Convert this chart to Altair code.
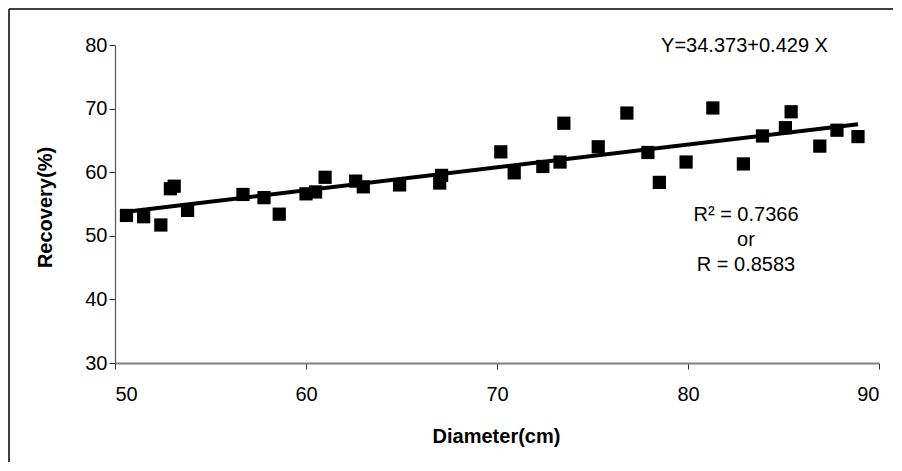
import altair as alt
import pandas as pd

# Data
diameter = [50.6, 51.5, 52.4, 52.9, 53.1, 53.8, 56.7, 57.8, 58.6, 60.0, 60.5, 61.0,
            62.6, 63.0, 64.9, 67.0, 67.1, 70.2, 70.9, 72.4, 73.3, 73.5, 75.3, 76.8,
            77.9, 78.5, 79.9, 81.3, 82.9, 83.9, 85.1, 85.4, 86.9, 87.8, 88.9]
recovery = [53.2, 53.0, 51.7, 57.4, 57.8, 54.0, 56.5, 56.0, 53.4, 56.6, 56.9, 59.2,
            58.6, 57.7, 58.0, 58.3, 59.5, 63.2, 59.9, 60.9, 61.6, 67.7, 64.0, 69.3,
            63.1, 58.4, 61.6, 70.1, 61.3, 65.7, 67.0, 69.5, 64.1, 66.6, 65.6]
x_ticks = [50, 60, 70, 80, 90]
y_ticks = [30, 40, 50, 60, 70, 80]
equation_text = "Y=34.373+0.429 X"
stats_text = ["R\u00b2 = 0.7366", "or", "R = 0.8583"]

df = pd.DataFrame({"Diameter": diameter, "Recovery": recovery})

FONT = "Liberation Sans"
W, H = 764, 318

xenc = alt.X("Diameter:Q",
             scale=alt.Scale(domain=[50, 90], nice=False, zero=False),
             axis=alt.Axis(values=x_ticks, title="Diameter(cm)", grid=False,
                           tickSize=6, labelPadding=15, labelFontSize=20,
                           labelFont=FONT, labelColor="black",
                           domainColor="#808080", domainWidth=2,
                           tickColor="#333333", tickWidth=1,
                           titleFont=FONT, titleFontSize=20, titleFontWeight="bold",
                           titleColor="black", titleBaseline="alphabetic",
                           titleY=79, titleX=W / 2 - 1, titleAnchor="middle"))
yenc = alt.Y("Recovery:Q",
             scale=alt.Scale(domain=[30, 80], nice=False, zero=False),
             axis=alt.Axis(values=y_ticks, title="Recovery(%)", grid=False,
                           tickSize=6, labelPadding=2, labelFontSize=20,
                           labelFont=FONT, labelColor="black",
                           domainColor="#555555", domainWidth=1.2,
                           tickColor="#333333", tickWidth=1,
                           titleFont=FONT, titleFontSize=20, titleFontWeight="bold",
                           titleColor="black", titleAngle=270,
                           titleBaseline="alphabetic", titleAlign="center",
                           titleX=-64, titleY=162))

base = alt.Chart(df)

points = base.mark_square(filled=True, color="black", size=175, opacity=1).encode(
    x=xenc, y=yenc)

line = base.transform_regression("Diameter", "Recovery").mark_line(
    color="black", strokeWidth=4).encode(x="Diameter:Q", y="Recovery:Q")

one = alt.Chart(pd.DataFrame({"k": [0]}))

equation = one.mark_text(text=equation_text, font=FONT, fontSize=20, color="black",
                         align="center", baseline="alphabetic").encode(
    x=alt.value(629.5), y=alt.value(7.3))

stats = one.mark_text(text=stats_text, font=FONT, fontSize=20, color="black",
                      align="center", baseline="alphabetic", lineHeight=25).encode(
    x=alt.value(631), y=alt.value(176))

frame_top = one.mark_rule(color="black", strokeWidth=1.5).encode(
    x=alt.value(-106), x2=alt.value(W + 200), y=alt.value(-36))
frame_left = one.mark_rule(color="black", strokeWidth=1.5).encode(
    x=alt.value(-106), y=alt.value(-36), y2=alt.value(H + 300))

chart = alt.layer(frame_top, frame_left, line, points, equation, stats).properties(
    width=W, height=H,
    padding={"left": 107, "top": 37, "right": 14, "bottom": 99},
    autosize=alt.AutoSizeParams(type="none"),
    background="white",
).configure_view(stroke=None)

chart.save("out.html", embed_options={"renderer": "svg", "actions": False})
